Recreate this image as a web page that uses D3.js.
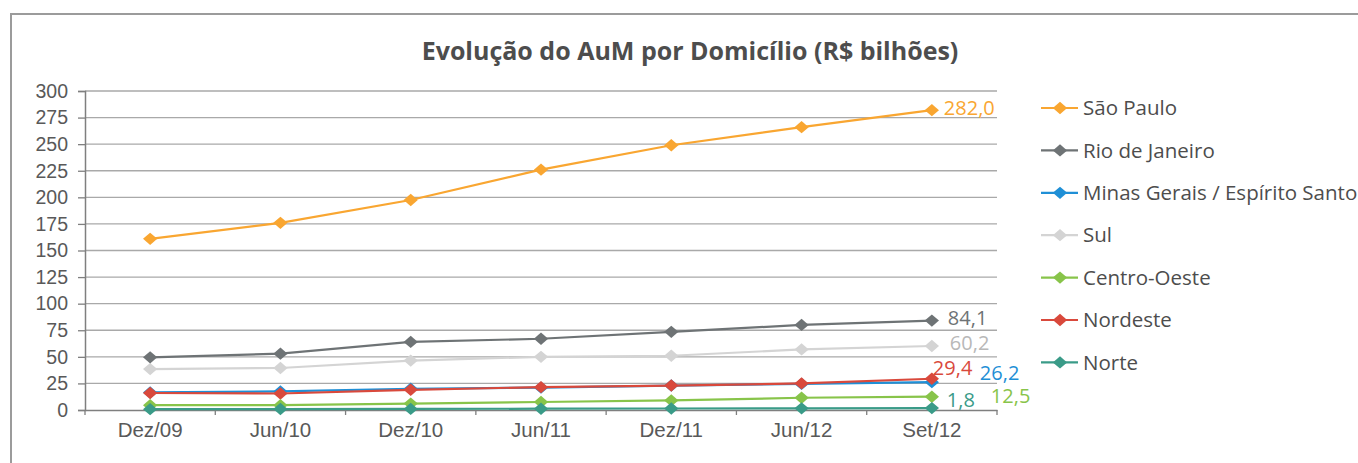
<!DOCTYPE html>
<html>
<head>
<meta charset="utf-8">
<script src="https://cdn.jsdelivr.net/npm/d3@7"></script>
<style>
  body { margin: 0; background: #fff; }
  svg { display: block; font-family: "Open Sans", "Noto Sans", sans-serif; }
  .tick text { fill: #595959; }
</style>
</head>
<body>
<svg id="chart" width="1358" height="463"></svg>
<script>
// categorias (eixo x)
var periods = ["Dez/09", "Jun/10", "Dez/10", "Jun/11", "Dez/11", "Jun/12", "Set/12"];
var yTicks = [0, 25, 50, 75, 100, 125, 150, 175, 200, 225, 250, 275, 300];

// séries (R$ bilhões)
var saoPaulo = [161, 176, 197.5, 226, 249, 266, 282.0];
var rioDeJaneiro = [49.5, 53, 64, 67, 73.5, 80, 84.1];
var minasEspirito = [16.5, 17.5, 20, 21, 23, 24.5, 26.2];
var sul = [38.5, 39.5, 46.5, 50, 51, 57, 60.2];
var centroOeste = [4.5, 4.5, 6, 7.5, 9, 11.5, 12.5];
var nordeste = [16, 15.5, 19, 21.5, 23, 25, 29.4];
var norte = [0.8, 0.9, 1.0, 1.2, 1.4, 1.6, 1.8];

var seriesNames = ["São Paulo", "Rio de Janeiro", "Minas Gerais / Espírito Santo", "Sul", "Centro-Oeste", "Nordeste", "Norte"];
var seriesValues = [saoPaulo, rioDeJaneiro, minasEspirito, sul, centroOeste, nordeste, norte];
var seriesColors = ["#f9a631", "#6e7375", "#1f8fd6", "#d4d4d4", "#88c44a", "#d9493c", "#3a9b88"];
var lastLabels = ["282,0", "84,1", "26,2", "60,2", "12,5", "29,4", "1,8"];
var labelColors = ["#f9a631", "#6e7375", "#1f8fd6", "#b8b8b8", "#88c44a", "#d9493c", "#3a9b88"];
// deslocamento dos rótulos finais em relação ao marcador
var labelOffsets = [[12, 5], [16, 4], [48, -2], [18, 4], [59, 6], [1, -4], [15, -1]];

var svg = d3.select("#chart");

// moldura
svg.append("rect")
    .attr("x", 11).attr("y", 14)
    .attr("width", 1400).attr("height", 500)
    .attr("fill", "none")
    .attr("stroke", "#9b9b9b")
    .attr("stroke-width", 2);

svg.append("text")
    .attr("x", 690).attr("y", 60)
    .attr("text-anchor", "middle")
    .attr("font-size", 25)
    .attr("font-weight", "bold")
    .attr("fill", "#4d4d4d")
    .text("Evolução do AuM por Domicílio (R$ bilhões)");

var margin = { left: 85, right: 997, top: 91, bottom: 410 };

var x = d3.scaleBand()
    .domain(periods)
    .range([margin.left, margin.right]);

var y = d3.scaleLinear()
    .domain([0, 300])
    .range([margin.bottom, margin.top]);

// grade
svg.append("g")
    .selectAll("line")
    .data(yTicks.filter(function(d) { return d > 0; }))
    .enter().append("line")
    .attr("x1", margin.left)
    .attr("x2", margin.right)
    .attr("y1", function(d) { return y(d); })
    .attr("y2", function(d) { return y(d); })
    .attr("stroke", "#a9a9a9")
    .attr("stroke-width", 1.3);

var yAxis = svg.append("g")
    .attr("transform", "translate(" + margin.left + ",0)")
    .call(d3.axisLeft(y).tickValues(yTicks).tickSize(7).tickPadding(10));
yAxis.selectAll("text").attr("font-size", 19.5);

var xAxis = svg.append("g")
    .attr("transform", "translate(0," + margin.bottom + ")")
    .call(d3.axisBottom(x).tickSize(0).tickPadding(12));
xAxis.selectAll("text").attr("font-size", 20.5).attr("dy", "0.71em");

// marcas de divisão entre categorias
svg.append("g")
    .selectAll("line")
    .data(d3.range(periods.length + 1))
    .enter().append("line")
    .attr("x1", function(i) { return margin.left + i * x.step(); })
    .attr("x2", function(i) { return margin.left + i * x.step(); })
    .attr("y1", margin.bottom)
    .attr("y2", margin.bottom + 5)
    .attr("stroke", "#7f7f7f")
    .attr("stroke-width", 1.3);

svg.selectAll(".domain").attr("stroke", "#7f7f7f").attr("stroke-width", 1.5);
svg.selectAll(".tick line").attr("stroke", "#7f7f7f").attr("stroke-width", 1.3);

var line = d3.line()
    .x(function(d, i) { return x(periods[i]) + x.bandwidth() / 2; })
    .y(function(d) { return y(d); });

var diamond = d3.symbol().type(d3.symbolDiamond).size(44);

// desenha de trás para frente para que São Paulo fique por cima
var order = [3, 1, 2, 5, 4, 6, 0];
order.forEach(function(s) {
    var g = svg.append("g");
    g.append("path")
        .datum(seriesValues[s])
        .attr("d", line)
        .attr("fill", "none")
        .attr("stroke", seriesColors[s])
        .attr("stroke-width", 2.2);
    g.selectAll("path.pt")
        .data(seriesValues[s])
        .enter().append("path")
        .attr("class", "pt")
        .attr("d", diamond)
        .attr("transform", function(d, i) {
            return "translate(" + (x(periods[i]) + x.bandwidth() / 2) + "," + y(d) + ") scale(2,1)";
        })
        .attr("fill", seriesColors[s]);
});

// rótulos do último ponto
seriesValues.forEach(function(vals, s) {
    var last = vals.length - 1;
    svg.append("text")
        .attr("x", x(periods[last]) + x.bandwidth() / 2 + labelOffsets[s][0])
        .attr("y", y(vals[last]) + labelOffsets[s][1])
        .attr("font-size", 20)
        .attr("fill", labelColors[s])
        .text(lastLabels[s]);
});

// legenda
var legend = svg.append("g")
    .selectAll("g")
    .data(seriesNames)
    .enter().append("g")
    .attr("transform", function(d, i) { return "translate(1041," + (108 + i * 42.4) + ")"; });

legend.append("line")
    .attr("x1", 0).attr("x2", 37)
    .attr("stroke", function(d, i) { return seriesColors[i]; })
    .attr("stroke-width", 2.2);
legend.append("path")
    .attr("d", diamond)
    .attr("transform", "translate(19,0) scale(2,1)")
    .attr("fill", function(d, i) { return seriesColors[i]; });
legend.append("text")
    .attr("x", 42)
    .attr("dy", "0.35em")
    .attr("font-size", 20.5)
    .attr("fill", "#4d4d4d")
    .text(function(d) { return d; });
</script>
</body>
</html>
